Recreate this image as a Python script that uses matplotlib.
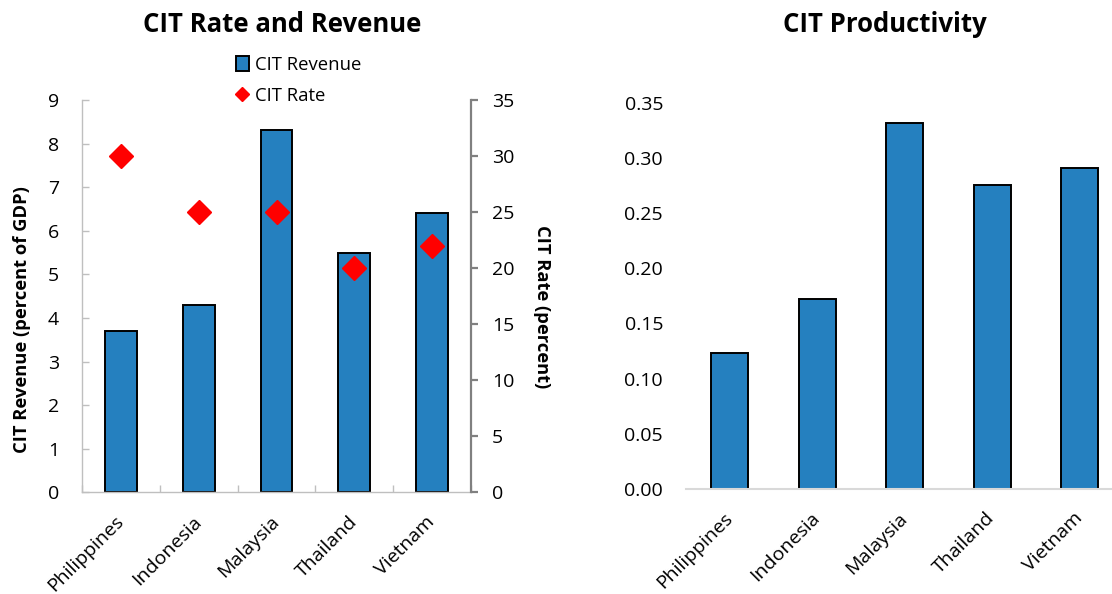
import matplotlib
matplotlib.use("Agg")
import matplotlib.pyplot as plt
import numpy as np
from matplotlib.patches import Patch
from matplotlib.lines import Line2D

plt.rcParams['font.family'] = ['Open Sans', 'DejaVu Sans']

countries = ["Philippines", "Indonesia", "Malaysia", "Thailand", "Vietnam"]
cit_revenue = [3.7, 4.3, 8.3, 5.5, 6.4]
cit_rate = [30, 25, 25, 20, 22]
cit_productivity = [0.123, 0.172, 0.332, 0.275, 0.291]
left_yticks = list(range(0, 10))
right_yticks = list(range(0, 36, 5))
prod_yticks = [0.00, 0.05, 0.10, 0.15, 0.20, 0.25, 0.30, 0.35]

BLUE = '#2580BF'
W, H = 1112, 594
fig = plt.figure(figsize=(W / 100, H / 100), dpi=100)

x = np.arange(len(countries))

# ---------- Left chart ----------
ax = fig.add_axes([82 / W, 1 - 492.3 / H, 389 / W, (492.3 - 99.9) / H])
ax.bar(x, cit_revenue, width=0.41, color=BLUE, edgecolor='black', linewidth=1.4, zorder=1)
ax.set_xlim(-0.5, len(countries) - 0.5)
ax.set_ylim(0, 9)
ax.set_yticks(left_yticks)
ax.set_xticks(x)
ax.set_xticks(np.arange(-0.5, len(countries)), minor=True)
ax.set_xticklabels(countries, rotation=45, ha='right', va='center', rotation_mode='anchor', fontsize=14)
ax.tick_params(axis='x', which='major', length=0, pad=19)
ax.tick_params(axis='x', which='minor', direction='in', length=5, color='#BFBFBF', width=1)
ax.tick_params(axis='y', direction='in', length=5, color='#BFBFBF', width=1, labelsize=14, pad=16.5)
for s in ['top', 'right']:
    ax.spines[s].set_visible(False)
for s in ['left', 'bottom']:
    ax.spines[s].set_color('#BFBFBF')
    ax.spines[s].set_linewidth(1)

ax2 = ax.twinx()
ax2.plot(x, cit_rate, linestyle='none', marker='D', markersize=12.5, color='#FF0000', zorder=3)
ax2.set_ylim(0, 35)
ax2.set_yticks(right_yticks)
for s in ['top', 'left', 'bottom']:
    ax2.spines[s].set_visible(False)
ax2.spines['right'].set_color('#808080')
ax2.spines['right'].set_linewidth(1.6)
ax2.tick_params(axis='y', direction='out', length=5, color='#808080', width=1.6, labelsize=14, pad=10)

handles = [Patch(facecolor=BLUE, edgecolor='black', linewidth=1.4),
           Line2D([0], [0], linestyle='none', marker='D', markersize=7, color='#FF0000')]
fig.legend(handles, ["CIT Revenue", "CIT Rate"], loc='upper left',
           bbox_to_anchor=(236 / W, 1 - 56 / H), frameon=False, fontsize=13.3,
           handlelength=0.7, handleheight=0.9, handletextpad=0.35, labelspacing=0.72,
           borderpad=0, borderaxespad=0)

fig.text(282.5 / W, 1 - 24.5 / H, "CIT Rate and Revenue", ha='center', va='center',
         fontsize=18.5, fontweight='bold')
fig.text(21.7 / W, 1 - 320 / H, "CIT Revenue (percent of GDP)", rotation=90, ha='center',
         va='center', fontsize=13.2, fontweight='bold')
fig.text(542 / W, 1 - 307 / H, "CIT Rate (percent)", rotation=270, ha='center',
         va='center', fontsize=13.2, fontweight='bold')

# ---------- Right chart ----------
ax3 = fig.add_axes([686 / W, 1 - 489 / H, 437.5 / W, (489 - 102.7) / H])
ax3.bar(x, cit_productivity, width=0.42, color=BLUE, edgecolor='black', linewidth=1.4, zorder=1)
ax3.set_xlim(-0.5, len(countries) - 0.5)
ax3.set_ylim(0, 0.35)
ax3.set_yticks(prod_yticks)
ax3.set_yticklabels([f"{v:.2f}" for v in prod_yticks])
ax3.set_xticks(x)
ax3.set_xticklabels(countries, rotation=45, ha='right', va='center', rotation_mode='anchor', fontsize=14)
ax3.tick_params(axis='x', length=0, pad=19)
ax3.tick_params(axis='y', length=0, labelsize=14, pad=16.5)
for s in ['top', 'right', 'left']:
    ax3.spines[s].set_visible(False)
ax3.spines['bottom'].set_color('#D9D9D9')
ax3.spines['bottom'].set_linewidth(1.5)

fig.text(885 / W, 1 - 24.5 / H, "CIT Productivity", ha='center', va='center',
         fontsize=18.5, fontweight='bold')

fig.savefig("out.png", dpi=100)
